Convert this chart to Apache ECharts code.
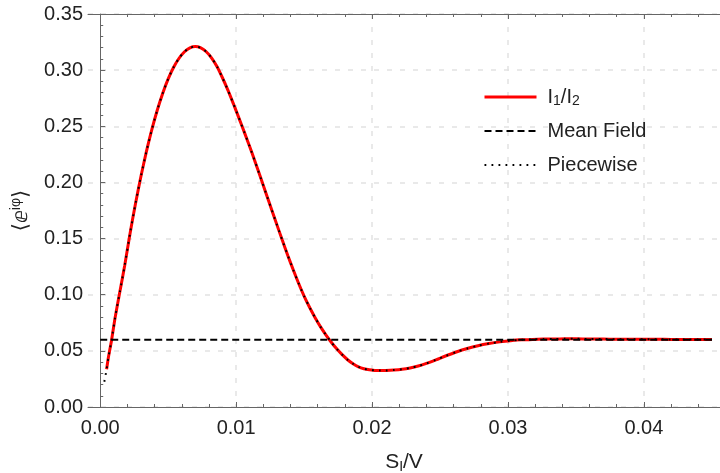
<!DOCTYPE html>
<html>
<head>
<meta charset="utf-8">
<script src="https://cdn.jsdelivr.net/npm/echarts@6/dist/echarts.min.js"></script>
<style>
html,body{margin:0;padding:0;background:#fff;}
#chart{width:720px;height:473px;}
</style>
</head>
<body>
<div id="chart"></div>
<script>
// ---- data ----
const xValues = [0.00047,0.0006,0.00084,0.0011,0.00145,0.0018,0.0022,0.0026,0.0030,0.0034,0.0038,0.0042,0.0046,0.0050,0.0054,0.0058,0.0062,0.0066,0.0070,0.0074,0.0078,0.0082,0.0086,0.0090,0.0094,0.0098,0.0102,0.0106,0.0110,0.0114,0.0118,0.0122,0.0126,0.0130,0.0134,0.0138,0.0142,0.0146,0.0150,0.0154,0.0158,0.0162,0.0166,0.0170,0.0174,0.0178,0.0182,0.0186,0.0190,0.0194,0.0198,0.0202,0.0206,0.0210,0.0216,0.0222,0.0228,0.0234,0.0240,0.0247,0.0254,0.0262,0.0270,0.0278,0.0286,0.0294,0.0302,0.0310,0.0318,0.0326,0.0334,0.0342,0.0350,0.0360,0.0370,0.0380,0.0390,0.0400,0.0410,0.0420,0.0430,0.0440,0.0450];
const ratioValues = [0.0336,0.044,0.060,0.080,0.103,0.126,0.155,0.1815,0.2057,0.2276,0.2472,0.2645,0.2795,0.2922,0.3026,0.3106,0.3164,0.3199,0.321,0.3198,0.3164,0.3108,0.3030,0.2930,0.2820,0.2700,0.2575,0.2448,0.2318,0.2182,0.2043,0.1902,0.1762,0.1622,0.1484,0.1350,0.1222,0.1100,0.0988,0.0888,0.0798,0.0716,0.0643,0.0577,0.0518,0.0466,0.0421,0.0385,0.0358,0.0341,0.0331,0.0326,0.0324,0.0325,0.0329,0.0336,0.0348,0.0365,0.0388,0.0420,0.0454,0.0490,0.0521,0.0546,0.0565,0.0580,0.0591,0.0598,0.0602,0.0605,0.0606,0.0607,0.0607,0.0606,0.0605,0.0604,0.0604,0.0603,0.0603,0.0602,0.0602,0.0602,0.0602];
const piecewiseStart = [0.0003, 0.0225];
const meanFieldValue = 0.06;
const meanFieldRange = [0.0, 0.045];
const xMajorTicks = [0, 0.01, 0.02, 0.03, 0.04];
const xGridTicks = [0.01, 0.02, 0.03, 0.04];
const xMinorTicks = [0.002,0.004,0.006,0.008,0.012,0.014,0.016,0.018,0.022,0.024,0.026,0.028,0.032,0.034,0.036,0.038,0.042,0.044];
const xRange = [-0.0009, 0.0456];
const yRange = [0, 0.35];
const yStep = 0.05;
const seriesNames = ['I1/I2', 'Mean Field', 'Piecewise'];

// ---- build ----
const curve = xValues.map((x, i) => [x, ratioValues[i]]);
const piecewise = [piecewiseStart].concat(curve);
const meanField = meanFieldRange.map(x => [x, meanFieldValue]);

const FONT = "'Liberation Sans', Arial, sans-serif";
const AXIS_COLOR = '#666';
const LABEL_COLOR = '#222';
const GRID_STYLE = {color: '#e2e2e2', width: 1.5, type: [5, 8]};

function xAx(extra) {
  return Object.assign({
    type: 'value', gridIndex: 0, min: xRange[0], max: xRange[1],
    axisLine: {show: false}, axisLabel: {show: false},
    axisTick: {show: false}, splitLine: {show: false}
  }, extra);
}

const chart = echarts.init(document.getElementById('chart'), null, {renderer: 'canvas'});
chart.setOption({
  animation: false,
  backgroundColor: '#fff',
  textStyle: {fontFamily: FONT},
  grid: {left: 88, right: 0, top: 14, bottom: 66, containLabel: false, outerBoundsMode: 'none'},
  xAxis: [
    xAx({
      position: 'bottom',
      axisLine: {show: true, lineStyle: {color: AXIS_COLOR, width: 1}},
      axisTick: {show: true, inside: true, length: 5, customValues: xMajorTicks, lineStyle: {color: AXIS_COLOR}},
      axisLabel: {show: true, customValues: xMajorTicks, margin: 11, fontSize: 20, color: LABEL_COLOR, fontFamily: FONT,
        formatter: v => v.toFixed(2)},
      name: 'S{sub|I}/V', nameLocation: 'middle', nameGap: 44,
      nameTextStyle: {fontSize: 21, color: LABEL_COLOR, fontFamily: FONT, lineHeight: 23,
        rich: {sub: {fontSize: 14, lineHeight: 8, verticalAlign: 'bottom', fontFamily: FONT, color: LABEL_COLOR}}}
    }),
    xAx({position: 'bottom',
      axisTick: {show: true, inside: true, length: 3, customValues: xMinorTicks, lineStyle: {color: AXIS_COLOR}}}),
    xAx({position: 'top',
      axisLine: {show: true, lineStyle: {color: AXIS_COLOR, width: 1}},
      axisTick: {show: true, inside: true, length: 5, customValues: xMajorTicks, lineStyle: {color: AXIS_COLOR}}}),
    xAx({position: 'top',
      axisTick: {show: true, inside: true, length: 3, customValues: xMinorTicks, lineStyle: {color: AXIS_COLOR}}}),
    xAx({position: 'bottom',
      axisTick: {show: false, customValues: xGridTicks},
      splitLine: {show: true, lineStyle: GRID_STYLE}})
  ],
  yAxis: [{
    type: 'value', gridIndex: 0, position: 'left',
    min: yRange[0], max: yRange[1], interval: yStep,
    axisLine: {show: true, lineStyle: {color: AXIS_COLOR, width: 1}},
    axisTick: {show: true, inside: true, length: 5, lineStyle: {color: AXIS_COLOR}},
    minorTick: {show: true, splitNumber: 5, length: 3, lineStyle: {color: AXIS_COLOR}},
    axisLabel: {fontSize: 20, color: LABEL_COLOR, margin: 5, fontFamily: FONT, formatter: v => v.toFixed(2)},
    splitLine: {show: true, lineStyle: GRID_STYLE},
    name: '⟨ⅇ{sup|iφ}⟩', nameLocation: 'middle', nameGap: 54, nameRotate: 90,
    nameTextStyle: {fontSize: 21, color: LABEL_COLOR, fontFamily: "'DejaVu Sans', " + FONT, lineHeight: 24,
      rich: {sup: {fontSize: 14, lineHeight: 10, verticalAlign: 'top', color: LABEL_COLOR, fontFamily: FONT}}}
  }],
  legend: {
    orient: 'vertical', left: 483, top: 86, padding: 0,
    itemWidth: 52, itemHeight: 14, itemGap: 12,
    data: [
      {name: seriesNames[0], lineStyle: {width: 3}},
      {name: seriesNames[1], lineStyle: {width: 2}},
      {name: seriesNames[2], lineStyle: {width: 2}}
    ],
    itemStyle: {opacity: 0, color: 'transparent', borderWidth: 0},
    textStyle: {fontSize: 20, color: LABEL_COLOR, fontFamily: FONT, lineHeight: 22, padding: [0, 0, 0, 6],
      rich: {
        n: {fontSize: 20, color: LABEL_COLOR, fontFamily: FONT, lineHeight: 22},
        s: {fontSize: 14, color: LABEL_COLOR, fontFamily: FONT, lineHeight: 10, verticalAlign: 'bottom'}
      }},
    formatter: name => name === 'I1/I2' ? '{n|I}{s|1}{n|/I}{s|2}' : name
  },
  series: [
    {name: seriesNames[0], type: 'line', data: curve, symbol: 'none', smooth: 0.25, z: 3,
      lineStyle: {color: '#ff0000', width: 3}, itemStyle: {color: '#ff0000'}},
    {name: seriesNames[1], type: 'line', data: meanField, symbol: 'none', z: 4,
      lineStyle: {color: '#000', width: 2, type: [7, 4]}, itemStyle: {color: '#000'}},
    {name: seriesNames[2], type: 'line', data: piecewise, symbol: 'none', smooth: 0.25, z: 5,
      lineStyle: {color: '#000', width: 2, type: [1.8, 5.2]}, itemStyle: {color: '#000'}}
  ]
});
</script>
</body>
</html>
